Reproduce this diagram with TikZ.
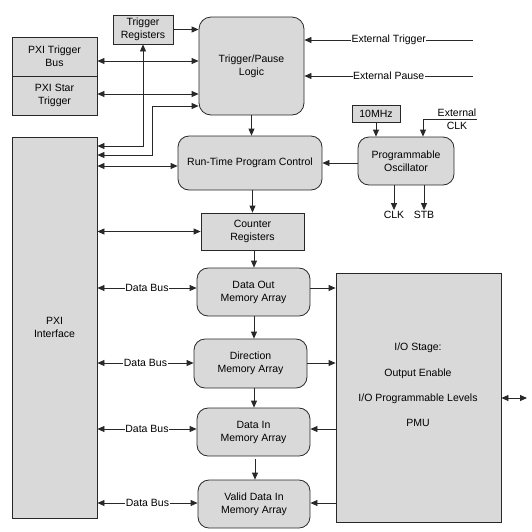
\documentclass[tikz,border=0pt]{standalone}
\usepackage{fontspec}
\setmainfont{Liberation Sans}
\usetikzlibrary{arrows.meta}
\definecolor{boxfill}{RGB}{217,217,217}
\definecolor{linec}{RGB}{40,40,40}
\begin{document}
\begin{tikzpicture}[x=1pt,y=-1pt,
  every node/.style={font=\fontsize{10.5}{13}\selectfont, text=black, inner sep=1pt},
  sq/.style={draw=linec, fill=boxfill, line width=0.8pt, align=center, inner sep=0pt},
  rnd/.style={sq, rounded corners=11pt},
  conn/.style={draw=linec, line width=0.8pt, -{Triangle[length=7pt,width=6pt]}},
  bconn/.style={draw=linec, line width=0.8pt, {Triangle[length=7pt,width=6pt]}-{Triangle[length=7pt,width=6pt]}},
  lbl/.style={fill=white, inner sep=0.5pt}
]
\useasboundingbox (0,0) rectangle (532,531);

% boxes
\node[sq, minimum width=60pt, minimum height=29pt] (treg) at (143,29.5) {Trigger\\Registers};
\node[rnd, rounded corners=12pt, minimum width=105pt, minimum height=98pt] (tpl) at (251.5,66) {Trigger/Pause\\Logic};
\node[sq, minimum width=85pt, minimum height=39pt] (ptb) at (54.5,56.5) {PXI Trigger\\Bus};
\node[sq, minimum width=85pt, minimum height=39pt] (pst) at (54.5,95.5) {PXI Star\\Trigger};
\node[sq, minimum width=85pt, minimum height=381pt] (pxi) at (54.5,327.5) {PXI\\Interface};
\node[rnd, minimum width=144pt, minimum height=54pt] (rtpc) at (250,163) {Run-Time Program Control};
\node[sq, minimum width=48pt, minimum height=17pt] (mhz) at (376,113.5) {10MHz};
\node[rnd, minimum width=96pt, minimum height=48pt] (osc) at (406,161) {Programmable\\Oscillator};
\node[sq, minimum width=103pt, minimum height=37pt] (creg) at (252.5,231.5) {Counter\\Registers};
\node[rnd, minimum width=113pt, minimum height=48pt] (dout) at (253.5,292) {Data Out\\Memory Array};
\node[rnd, minimum width=113pt, minimum height=49pt] (dir) at (250.5,363.5) {Direction\\Memory Array};
\node[rnd, minimum width=113pt, minimum height=48pt] (din) at (253.5,432) {Data In\\Memory Array};
\node[rnd, minimum width=112pt, minimum height=48pt] (vdin) at (254,504) {Valid Data In\\Memory Array};
\node[sq, minimum width=165pt, minimum height=249pt] (io) at (418.5,397.5) {};
\node[align=center, font=\fontsize{10.5}{25.3}\selectfont] (iotext) at (418,385) {I/O Stage:\\Output Enable\\I/O Programmable Levels\\PMU};

% helper coordinates
\coordinate (y61) at (0,61);
\coordinate (y94) at (0,94);
\coordinate (y146) at (0,146);
\coordinate (y155) at (0,155);
\coordinate (y106) at (0,106);
\coordinate (y166) at (0,166);
\coordinate (jog) at (152,155);
\coordinate (jogt) at (152,106);
\coordinate (et) at (473,40);
\coordinate (ep) at (473,76);
\coordinate (ec) at (477,119);
\coordinate (eck) at (423,119);
\coordinate (r1) at (0,288);
\coordinate (r2) at (0,363);
\coordinate (r3) at (0,429);
\coordinate (r4) at (0,503);
\coordinate (iox) at (527,398);

% top-left connectors
\draw[conn] (treg.east) -- (treg.east -| tpl.west);
\draw[bconn] (ptb.east |- y61) -- (tpl.west |- y61);
\draw[bconn] (pst.east |- y94) -- (tpl.west |- y94);
\draw[bconn] (treg.south) -- (treg.south |- y146) -- (pxi.east |- y146);
\draw[bconn] (pxi.east |- y155) -- (jog) -- (jogt) -- (tpl.west |- y106);
\draw[bconn] (pxi.east |- y166) -- (rtpc.west |- y166);
\draw[conn] (tpl.south) -- (tpl.south |- rtpc.north);

% external inputs
\draw[conn] (et) -- (tpl.east |- et) node[midway, lbl] {External Trigger};
\draw[conn] (ep) -- (tpl.east |- ep) node[midway, lbl] {External Pause};

% oscillator
\draw[conn] (mhz.south) -- (mhz.south |- osc.north);
\draw[conn] (ec) -- (eck) -- (eck |- osc.north);
\node[align=center] (eclbl) at (457,119.5) {External\\CLK};
\draw[conn] (osc.west |- rtpc.east) -- (rtpc.east);
\node (clk) at (394,215) {CLK};
\node (stb) at (424,215) {STB};
\draw[conn] (osc.south -| clk) -- (clk.north);
\draw[conn] (osc.south -| stb) -- (stb.north);

% centre column
\draw[conn] (rtpc.south -| creg.north) -- (creg.north);
\draw[bconn] (pxi.east |- creg.west) -- (creg.west);
\draw[conn] (creg.south -| 254,0) -- (dout.north -| 254,0);
\draw[conn] (dout.south -| 254,0) -- (dir.north -| 254,0);
\draw[conn] (dir.south -| 254,0) -- (din.north -| 254,0);
\draw[conn, shorten <=3pt] (din.south -| 255,0) -- (vdin.north -| 255,0);

% data buses
\draw[bconn] (pxi.east |- r1) -- (dout.west |- r1) node[midway, lbl] {Data Bus};
\draw[bconn] (pxi.east |- r2) -- (dir.west |- r2) node[midway, lbl] {Data Bus};
\draw[bconn] (pxi.east |- r3) -- (din.west |- r3) node[midway, lbl] {Data Bus};
\draw[bconn] (pxi.east |- r4) -- (vdin.west |- r4) node[midway, lbl] {Data Bus};

% I/O stage links
\draw[conn] (dout.east |- r1) -- (io.west |- r1);
\draw[conn] (dir.east |- r2) -- (io.west |- r2);
\draw[conn] (io.west |- r3) -- (din.east |- r3);
\draw[conn] (io.west |- r4) -- (vdin.east |- r4);
\draw[bconn] (io.east |- iox) -- (iox);
\end{tikzpicture}
\end{document}
